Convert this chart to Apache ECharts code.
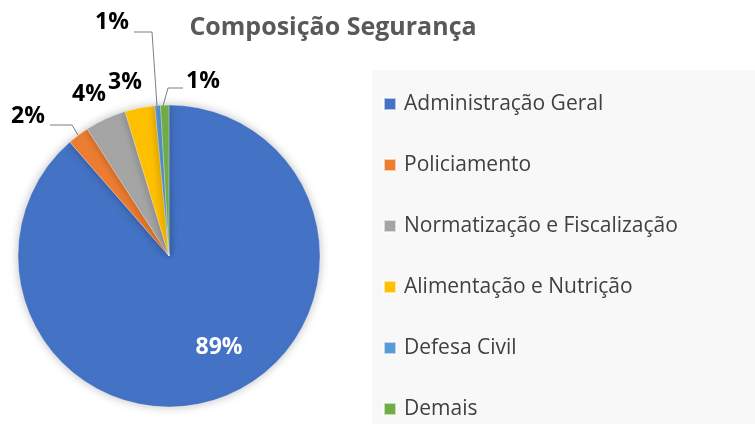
<!DOCTYPE html>
<html>
<head>
<meta charset="utf-8">
<script src="https://cdn.jsdelivr.net/npm/echarts@6/dist/echarts.min.js"></script>
<style>
  html, body { margin: 0; padding: 0; background: #fff; }
  #main { width: 755px; height: 434px; }
</style>
</head>
<body>
<div id="main"></div>
<script>
// dados (% do total)
var categorias = ['Administração Geral', 'Policiamento', 'Normatização e Fiscalização',
  'Alimentação e Nutrição', 'Defesa Civil', 'Demais'];
var valores = [88.6, 2.3, 4.4, 3.2, 0.6, 0.9];
var cores = ['#4472C4', '#ED7D31', '#A5A5A5', '#FFC000', '#5B9BD5', '#70AD47'];

// onde o Excel colocou cada rótulo
var posRotulos = [[219, 347], [28, 116], [89, 94], [125, 82], [112, 22], [203, 81]];
var linhasRotulos = [
  null,
  [[78, 135], [72, 125], [50, 125]],
  null,
  null,
  [[157, 106], [152, 32], [134, 32]],
  [[163, 106], [168, 88], [183, 88]]
];

var chart = echarts.init(document.getElementById('main'));

var dados = categorias.map(function (nome, i) {
  var d = { name: nome, value: valores[i], itemStyle: { color: cores[i] } };
  if (i === 0) {
    d.label = { position: 'inside', color: '#fff' };
  }
  if (i === 2 || i === 3) {
    d.labelLine = { show: false };
  }
  return d;
});

chart.setOption({
  backgroundColor: '#fff',
  animation: false,
  title: {
    text: 'Composição Segurança',
    left: 328,
    top: 10,
    textAlign: 'center',
    textStyle: { fontFamily: 'Open Sans', fontWeight: 'bold', fontSize: 25, color: '#595959' }
  },
  graphic: [{
    type: 'rect',
    z: -1,
    shape: { x: 372, y: 70, width: 383, height: 354 },
    style: { fill: '#f8f8f8' }
  }],
  legend: {
    orient: 'vertical',
    left: 383,
    top: 92,
    padding: 0,
    itemWidth: 12,
    itemHeight: 12,
    itemGap: 37,
    icon: 'rect',
    textStyle: { fontFamily: 'Open Sans', fontSize: 21, color: '#404040', lineHeight: 24, padding: [0, 0, 0, 3] },
    data: categorias
  },
  series: [{
    type: 'pie',
    center: [169, 256],
    radius: 151,
    startAngle: 90,
    clockwise: true,
    avoidLabelOverlap: false,
    itemStyle: {
      borderColor: 'rgba(255,255,255,0.6)',
      borderWidth: 0.5,
      shadowBlur: 10,
      shadowColor: 'rgba(0,0,0,0.25)'
    },
    label: {
      show: true,
      position: 'outside',
      fontFamily: 'Open Sans',
      fontWeight: 'bold',
      fontSize: 23,
      color: '#000',
      formatter: function (p) { return Math.round(p.value) + '%'; }
    },
    labelLine: {
      show: true,
      lineStyle: { color: '#7f7f7f', width: 1 }
    },
    labelLayout: function (p) {
      var i = p.dataIndex;
      var cfg = {
        x: posRotulos[i][0],
        y: posRotulos[i][1],
        align: 'center',
        verticalAlign: 'middle'
      };
      if (linhasRotulos[i]) cfg.labelLinePoints = linhasRotulos[i];
      return cfg;
    },
    data: dados
  }]
});
</script>
</body>
</html>
